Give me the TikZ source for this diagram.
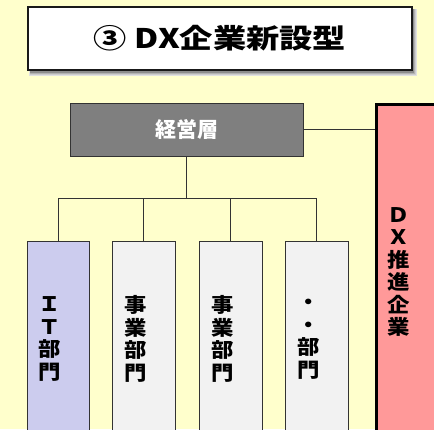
\documentclass[tikz,border=0pt]{standalone}
\usepackage{fontspec}
\usepackage{graphicx}
\setmainfont{Noto Sans CJK JP}
\newfontfamily\jpw{Noto Sans CJK JP}[FakeStretch=1.12]
\definecolor{bg}{HTML}{FFFFCC}
\definecolor{mgmtc}{HTML}{7F7F7F}
\definecolor{itc}{HTML}{CCCCEE}
\definecolor{deptc}{HTML}{F2F2F2}
\definecolor{dxc}{HTML}{FF9999}
\definecolor{edge}{HTML}{333333}
\begin{document}
\begin{tikzpicture}[x=1pt,y=-1pt,
  titlebox/.style={draw=black!90,line width=1.3pt,fill=white,minimum width=384pt,minimum height=63pt,inner sep=0pt},
  mgmtbox/.style={draw=edge,line width=0.8pt,fill=mgmtc,minimum width=233pt,minimum height=53pt,inner sep=0pt,text=white,font=\bfseries\fontsize{21}{24}\selectfont},
  deptbox/.style={draw=edge,line width=0.8pt,anchor=north,minimum width=62pt,minimum height=200pt,inner sep=0pt},
  dxbox/.style={draw=black,line width=3pt,fill=dxc,anchor=north west,minimum width=70pt,minimum height=340pt,inner sep=0pt},
  vtext/.style={align=center,inner sep=0pt,font=\jpw\bfseries\fontsize{20}{22.5}\selectfont},
  conn/.style={draw=edge,line width=0.9pt}]
\fill[bg] (0,0) rectangle (434,429);
\useasboundingbox (0,0) rectangle (434,429);
% soft title shadow
\fill[black!12] (29,9) rectangle (417,76);
\fill[black!20] (30,9) rectangle (416,75);
\fill[black!30] (30,9) rectangle (415,74);
\fill[black!45] (30,9) rectangle (414,73);
\node[titlebox] (title) at (220,38.5) {\resizebox{252pt}{\height}{\bfseries\fontsize{27}{30}\selectfont ③ DX企業新設型}};
\node[mgmtbox] (mgmt) at (186.5,129.5) {経営層};
\node[deptbox,fill=itc] (it) at (58,241) {};
\node[deptbox,fill=deptc,minimum width=63pt] (d2) at (143.5,241) {};
\node[deptbox,fill=deptc,minimum width=63pt] (d3) at (230.5,241) {};
\node[deptbox,fill=deptc,minimum width=63pt] (d4) at (316.5,241) {};
\node[dxbox] (dx) at (375,103) {};
\coordinate (j) at (186.5,198);
\draw[conn] (mgmt.south) -- (j);
\draw[conn] (it.north) -- (it.north |- j) -- (d4.north |- j) -- (d4.north);
\draw[conn] (d2.north) -- (d2.north |- j);
\draw[conn] (d3.north) -- (d3.north |- j);
\draw[conn] (mgmt.east) -- (mgmt.east -| dx.west);
\node[vtext] (itt) at (50,339) {Ｉ\\Ｔ\\部\\門};
\node[vtext] (d2t) at (135.5,339) {事\\業\\部\\門};
\node[vtext] (d3t) at (222.5,339) {事\\業\\部\\門};
\node[vtext] (d4t) at (308.5,339) {・\\・\\部\\門};
\node[vtext] (dxt) at (399,272) {Ｄ\\Ｘ\\推\\進\\企\\業};
\end{tikzpicture}
\end{document}
